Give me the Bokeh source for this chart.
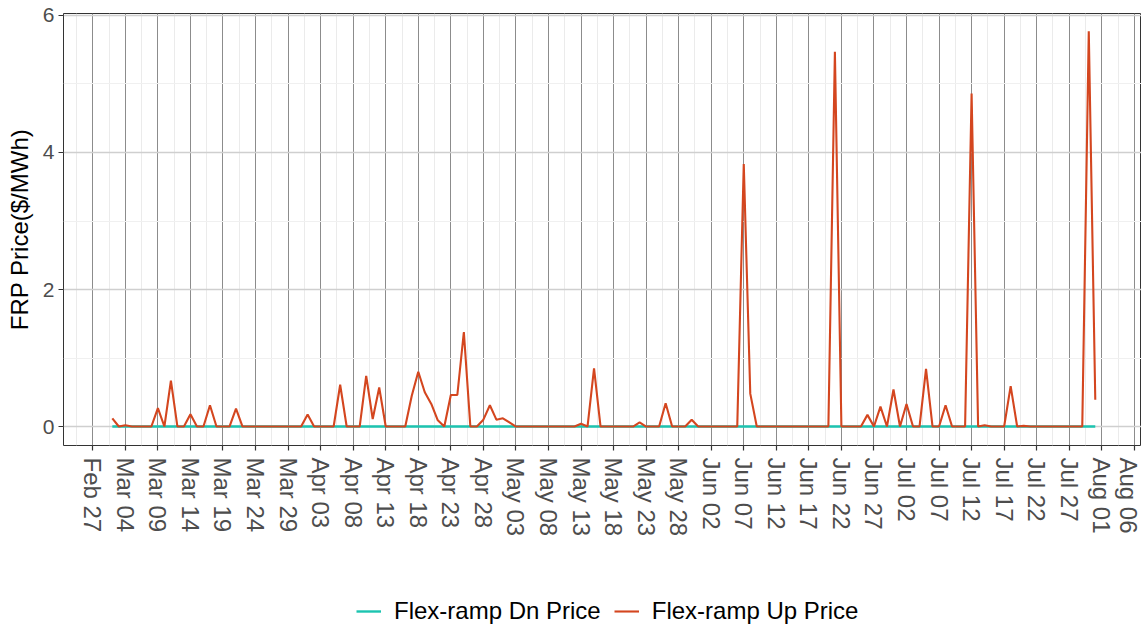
import math
import pandas as pd
from bokeh.plotting import figure
from bokeh.layouts import column
from bokeh.models import (Range1d, FixedTicker, DatetimeTickFormatter, Legend,
                          LegendItem, ColumnDataSource)
from bokeh.embed import file_html
from bokeh.resources import INLINE

# ---------------- data (daily, 2019-03-02 .. 2019-07-31) ----------------
first_day = "2019-03-02"
last_day = "2019-07-31"

up_mar = [0.12, 0.00, 0.02, 0.00, 0.00, 0.00, 0.00, 0.27, 0.00, 0.67,
          0.00, 0.00, 0.18, 0.00, 0.00, 0.31, 0.00, 0.00, 0.00, 0.26,
          0.00, 0.00, 0.00, 0.00, 0.00, 0.00, 0.00, 0.00, 0.00, 0.00]
up_apr = [0.175, 0.00, 0.00, 0.00, 0.00, 0.61, 0.00, 0.00, 0.00, 0.74,
          0.11, 0.57, 0.00, 0.00, 0.00, 0.00, 0.45, 0.80, 0.50, 0.33,
          0.09, 0.00, 0.46, 0.46, 1.38, 0.00, 0.00, 0.10, 0.31, 0.10]
up_may = [0.12, 0.06, 0.00, 0.00, 0.00, 0.00, 0.00, 0.00, 0.00, 0.00,
          0.00, 0.00, 0.04, 0.00, 0.85, 0.00, 0.00, 0.00, 0.00, 0.00,
          0.00, 0.06, 0.00, 0.00, 0.00, 0.34, 0.00, 0.00, 0.00, 0.10,
          0.00]
up_jun = [0.00, 0.00, 0.00, 0.00, 0.00, 0.00, 3.83, 0.48, 0.00, 0.00,
          0.00, 0.00, 0.00, 0.00, 0.00, 0.00, 0.00, 0.00, 0.00, 0.00,
          5.47, 0.00, 0.00, 0.00, 0.00, 0.17, 0.00, 0.29, 0.00, 0.54]
up_jul = [0.00, 0.33, 0.00, 0.00, 0.84, 0.00, 0.00, 0.31, 0.00, 0.00,
          0.00, 4.86, 0.00, 0.02, 0.00, 0.00, 0.00, 0.59, 0.00, 0.01,
          0.00, 0.00, 0.00, 0.00, 0.00, 0.00, 0.00, 0.00, 0.00, 5.77,
          0.39]

dn_mar = [0, 0, 0, 0, 0, 0, 0, 0, 0, 0, 0, 0, 0, 0, 0,
          0, 0, 0, 0, 0, 0, 0, 0, 0, 0, 0, 0, 0, 0, 0]
dn_apr = [0, 0, 0, 0, 0, 0, 0, 0, 0, 0, 0, 0, 0, 0, 0,
          0, 0, 0, 0, 0, 0, 0, 0, 0, 0, 0, 0, 0, 0, 0]
dn_may = [0, 0, 0, 0, 0, 0, 0, 0, 0, 0, 0, 0, 0, 0, 0, 0,
          0, 0, 0, 0, 0, 0, 0, 0, 0, 0, 0, 0, 0, 0, 0]
dn_jun = [0, 0, 0, 0, 0, 0, 0, 0, 0, 0, 0, 0, 0, 0, 0,
          0, 0, 0, 0, 0, 0, 0, 0, 0, 0, 0, 0, 0, 0, 0]
dn_jul = [0, 0, 0, 0, 0, 0, 0, 0, 0, 0, 0, 0, 0, 0, 0, 0,
          0, 0, 0, 0, 0, 0, 0, 0, 0, 0, 0, 0, 0, 0, 0]

series_names = ["Flex-ramp Dn Price", "Flex-ramp Up Price"]
y_title = "FRP Price($/MWh)"
y_ticks = [0, 2, 4, 6]
y_minor = [1, 3, 5]
x_tick_start = "2019-02-27"
x_tick_step_days = 5
x_tick_count = 33

# ---------------- build ----------------
dates = pd.date_range(first_day, last_day, freq="D")
up = up_mar + up_apr + up_may + up_jun + up_jul
dn = dn_mar + dn_apr + dn_may + dn_jun + dn_jul
src = ColumnDataSource(dict(date=dates, up=up, dn=[float(v) for v in dn]))

DAY = 86400000.0
t0 = pd.Timestamp(x_tick_start).value / 1e6
major = [t0 + k * x_tick_step_days * DAY for k in range(x_tick_count)]
minor = [t0 + (k - 0.5) * x_tick_step_days * DAY for k in range(x_tick_count + 1)]

x_range = Range1d(t0 - 4.5 * DAY, t0 + 161.1 * DAY)
y_range = Range1d(-0.277, 6.029)

DN_COLOR = "#1CC4B0"
UP_COLOR = "#D4461F"
FONT = "Liberation Sans"

p = figure(width=1141, height=580, x_axis_type="datetime",
           x_range=x_range, y_range=y_range,
           output_backend="svg", toolbar_location=None,
           min_border_left=63, min_border_right=0,
           min_border_top=13, min_border_bottom=135)
p.background_fill_color = "white"
p.border_fill_color = "white"
p.outline_line_color = "#333333"
p.outline_line_width = 1

r_dn = p.line("date", "dn", source=src, color=DN_COLOR, line_width=2.4)
r_up = p.line("date", "up", source=src, color=UP_COLOR, line_width=2.1)

p.xaxis.ticker = FixedTicker(ticks=major, minor_ticks=minor)
p.yaxis.ticker = FixedTicker(ticks=y_ticks, minor_ticks=y_minor)
fmt = "%b %d"
p.xaxis.formatter = DatetimeTickFormatter(
    milliseconds=fmt, seconds=fmt, minsec=fmt, minutes=fmt, hourmin=fmt,
    hours=fmt, days=fmt, months=fmt, years=fmt)
p.xaxis.major_label_orientation = -math.pi / 2

p.xgrid.grid_line_color = "#8c8c8c"
p.xgrid.grid_line_width = 1
p.xgrid.minor_grid_line_color = "#ebebeb"
p.xgrid.minor_grid_line_width = 1
p.ygrid.grid_line_color = "#cfcfcf"
p.ygrid.grid_line_width = 1.3
p.ygrid.minor_grid_line_color = "#f0f0f0"
p.ygrid.minor_grid_line_width = 1

for ax in (p.xaxis[0], p.yaxis[0]):
    ax.axis_line_color = None
    ax.major_tick_line_color = "#333333"
    ax.major_tick_line_width = 1.2
    ax.major_tick_out = 5
    ax.major_tick_in = 0
    ax.minor_tick_line_color = None
    ax.major_label_text_color = "#4d4d4d"
    ax.major_label_text_font = FONT

p.xaxis.major_label_text_font_size = "24px"
p.xaxis.major_label_standoff = 7
p.yaxis.major_label_text_font_size = "21px"
p.yaxis.major_label_standoff = 4
p.yaxis.axis_label = y_title
p.yaxis.axis_label_text_font = FONT
p.yaxis.axis_label_text_font_size = "24px"
p.yaxis.axis_label_text_font_style = "normal"
p.yaxis.axis_label_text_color = "black"
p.yaxis.axis_label_standoff = 7

# ---------------- legend strip below the plot ----------------
# The same series are drawn here but fall outside this strip's ranges, so
# only their legend keys are visible.
lg = figure(width=1141, height=47, output_backend="svg", toolbar_location=None,
            x_range=Range1d(0, 1), y_range=Range1d(100, 101),
            min_border=0, min_border_left=0, min_border_right=0,
            min_border_top=0, min_border_bottom=0)
lg.axis.visible = False
lg.grid.visible = False
lg.outline_line_color = None
lg.background_fill_color = "white"
lg.border_fill_color = "white"
k_dn = lg.line("date", "dn", source=src, color=DN_COLOR, line_width=2.4)
k_up = lg.line("date", "up", source=src, color=UP_COLOR, line_width=2.1)

legend = Legend(items=[LegendItem(label=series_names[0], renderers=[k_dn]),
                       LegendItem(label=series_names[1], renderers=[k_up])],
                orientation="horizontal", location=(293, 2))
legend.padding = 0
legend.margin = 0
legend.spacing = 13
legend.border_line_color = None
legend.background_fill_alpha = 0
legend.glyph_width = 25
legend.glyph_height = 24
legend.label_height = 24
legend.label_standoff = 13
legend.label_text_font = FONT
legend.label_text_font_size = "24px"
legend.label_text_color = "black"
lg.add_layout(legend)

layout = column(p, lg, spacing=0)
open("out.html", "w").write(file_html(layout, INLINE))
